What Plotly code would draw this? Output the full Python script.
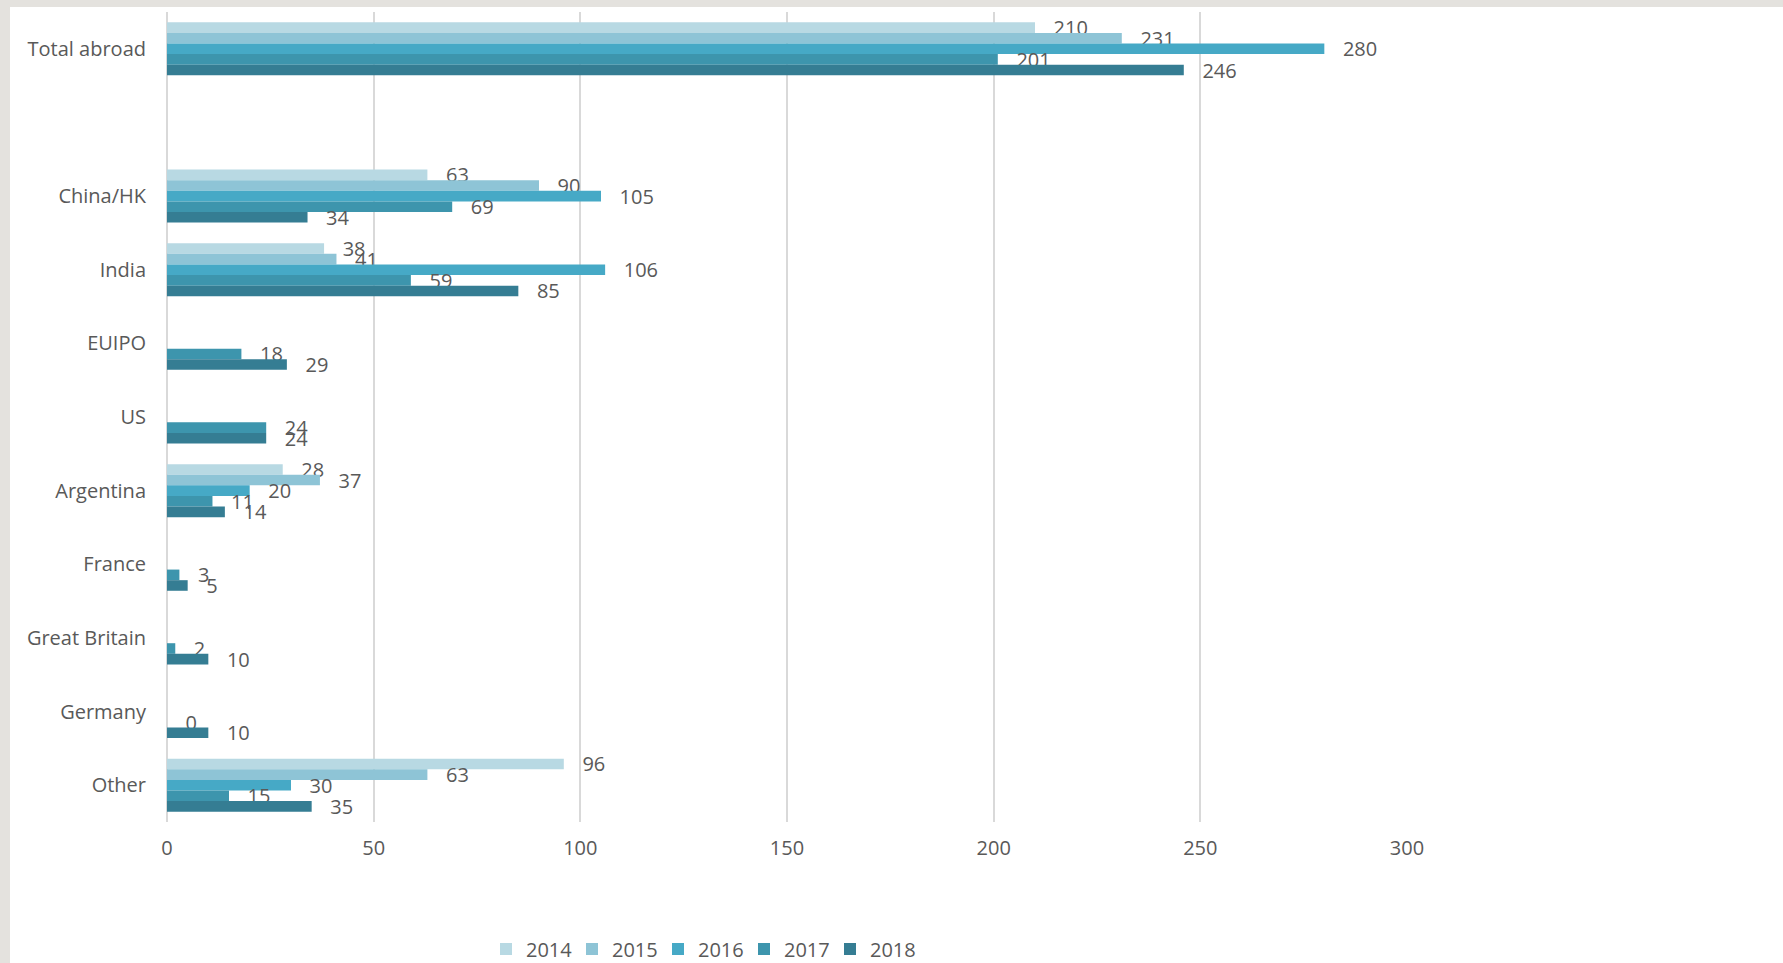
import plotly.graph_objects as go

categories = ["Total abroad", "China/HK", "India", "EUIPO", "US", "Argentina",
              "France", "Great Britain", "Germany", "Other"]
category_order = ["Total abroad", " ", "China/HK", "India", "EUIPO", "US", "Argentina",
                  "France", "Great Britain", "Germany", "Other"]
years = ["2014", "2015", "2016", "2017", "2018"]
v2014 = [210, 63, 38, None, None, 28, None, None, None, 96]
v2015 = [231, 90, 41, None, None, 37, None, None, None, 63]
v2016 = [280, 105, 106, None, None, 20, None, None, None, 30]
v2017 = [201, 69, 59, 18, 24, 11, 3, 2, 0, 15]
v2018 = [246, 34, 85, 29, 24, 14, 5, 10, 10, 35]
series = [v2014, v2015, v2016, v2017, v2018]
colors = ["#b8d9e3", "#8ec4d6", "#46a9c6", "#3d95ad", "#357d93"]
x_ticks = [0, 50, 100, 150, 200, 250, 300]

W, H = 1783, 963
L, R, T, B = 167, 376, 12, 141
pw, ph = W - L - R, H - T - B
font = dict(family="Open Sans, sans-serif", size=20, color="#595959")

fig = go.Figure()
for yr, vals, col in zip(years, series, colors):
    fig.add_trace(go.Bar(
        y=categories, x=vals, name=yr, orientation="h",
        marker=dict(color=col, line=dict(width=0)),
        texttemplate="\u00a0\u00a0\u00a0%{x}", textposition="outside",
        constraintext="none", textfont=font, cliponaxis=False,
    ))

shapes = [
    dict(type="rect", xref="paper", yref="paper",
         x0=-L / pw, x1=(10 - L) / pw, y0=-B / ph, y1=1 + T / ph,
         fillcolor="#e4e2de", line=dict(width=0), layer="above"),
    dict(type="rect", xref="paper", yref="paper",
         x0=-L / pw, x1=1 + R / pw, y0=1 + (T - 7) / ph, y1=1 + T / ph,
         fillcolor="#e4e2de", line=dict(width=0), layer="above"),
]

fig.update_layout(
    width=W, height=H,
    margin=dict(l=L, r=R, t=T, b=B, pad=0, autoexpand=False),
    paper_bgcolor="white", plot_bgcolor="white",
    barmode="group", bargap=0.28, bargroupgap=0,
    font=font,
    showlegend=True,
    legend=dict(orientation="h", x=(701 - L) / pw, xanchor="center",
                y=-(949 - (T + ph)) / ph, yanchor="middle",
                traceorder="normal", font=font, itemwidth=30,
                entrywidth=41, entrywidthmode="pixels"),
    xaxis=dict(range=[0, 300], tickvals=x_ticks, showgrid=True,
               gridcolor="#d9d9d9", gridwidth=2, zeroline=True,
               zerolinecolor="#d9d9d9", zerolinewidth=2, showline=False,
               ticks="", tickfont=font, ticklabelstandoff=12, fixedrange=True),
    yaxis=dict(type="category", categoryorder="array", categoryarray=category_order,
               range=[10.5, -0.5], showgrid=False, zeroline=False, showline=False,
               ticks="", tickfont=font, ticklabelstandoff=20),
    shapes=shapes,
)

fig.write_html(
    "out.html",
    config={"displayModeBar": False},
    post_script="document.body.style.margin='0';document.body.style.overflow='hidden';",
)
